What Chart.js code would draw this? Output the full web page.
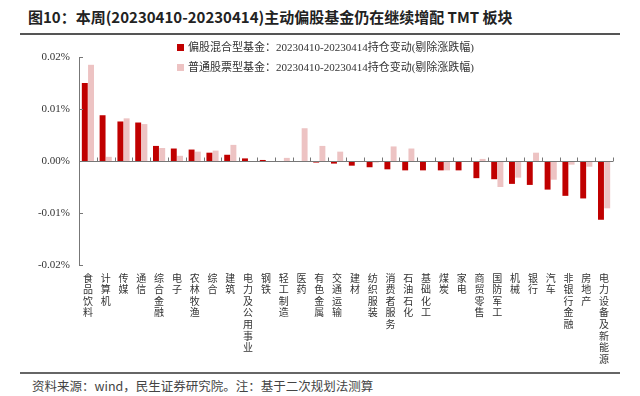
<!DOCTYPE html>
<html>
<head>
<meta charset="utf-8">
<script src="https://cdn.jsdelivr.net/npm/chart.js@4.4.0/dist/chart.umd.min.js"></script>
<style>
  body { margin: 0; background: #fff; width: 640px; height: 396px; position: relative; overflow: hidden; }
  #title { position: absolute; left: 28px; top: 6px; font: bold 15px "Noto Sans CJK SC", sans-serif; color: #222; white-space: nowrap; }
  #titleLine { position: absolute; left: 20px; top: 33px; width: 600px; height: 2px; background: #555; }
  #footLine { position: absolute; left: 20px; top: 372px; width: 600px; height: 2px; background: #666; }
  #foot { position: absolute; left: 32px; top: 376px; font: 12.5px "Noto Sans CJK SC", sans-serif; color: #444; white-space: nowrap; }
  #chartBox { position: absolute; left: 0; top: 36px; width: 640px; height: 334px; }
  #legend { position: absolute; left: 177px; top: 39px; font: 11px "Liberation Serif", "Noto Sans CJK SC", serif; color: #333; }
  #legend div { height: 20px; line-height: 16px; white-space: nowrap; }
  #legend span.box { display: inline-block; width: 7px; height: 7px; margin-right: 4px; vertical-align: 0px; }
</style>
</head>
<body>
<div id="title">图10：本周(20230410-20230414)主动偏股基金仍在继续增配 TMT 板块</div>
<div id="titleLine"></div>
<div id="chartBox"><canvas id="c"></canvas></div>
<div id="legend"></div>
<div id="footLine"></div>
<div id="foot">资料来源：wind，民生证券研究院。注：基于二次规划法测算</div>
<script>
// -------- DATA --------
const categories = ["食品饮料", "计算机", "传媒", "通信", "综合金融", "电子", "农林牧渔", "综合", "建筑",
    "电力及公用事业", "钢铁", "轻工制造", "医药", "有色金属", "交通运输", "建材", "纺织服装", "消费者服务",
    "石油石化", "基础化工", "煤炭", "家电", "商贸零售", "国防军工", "机械", "银行", "汽车", "非银行金融",
    "房地产", "电力设备及新能源"];

const seriesNames = ["偏股混合型基金：20230410-20230414持仓变动(剔除涨跌幅)",
    "普通股票型基金：20230410-20230414持仓变动(剔除涨跌幅)"];

const hybridFund = [0.0150, 0.0088, 0.0076, 0.0074, 0.0029, 0.0024, 0.0022, 0.0016, 0.0012,
    0.0005, 0.0002, -0.0001, -0.0001, -0.0003, -0.0005, -0.0009, -0.0012, -0.0016,
    -0.0018, -0.0018, -0.0018, -0.0018, -0.0033, -0.0035, -0.0044, -0.0046, -0.0055, -0.0067,
    -0.0072, -0.0113];

const stockFund = [0.0185, 0.0008, 0.0082, 0.0071, 0.0025, 0.0010, 0.0018, 0.0020, 0.0031,
    -0.0001, 0.0000, 0.0006, 0.0063, 0.0029, 0.0018, -0.0001, -0.0003, 0.0028,
    0.0024, 0.0000, -0.0018, 0.0000, 0.0004, -0.0050, -0.0032, 0.0016, -0.0036, -0.0007,
    -0.0011, -0.0091];

const yTicks = [-0.02, -0.01, 0.00, 0.01, 0.02];

const colors = ["#C00000", "#EDC3C3"];

// -------- LEGEND --------
const legendEl = document.getElementById("legend");
seriesNames.forEach((name, i) => {
    const row = document.createElement("div");
    row.innerHTML = `<span class="box" style="background:${colors[i]}"></span>${name}`;
    legendEl.appendChild(row);
});

// -------- AXIS DECORATION (zero line, inward ticks) --------
const axisDeco = {
    id: "axisDeco",
    afterDatasetsDraw(chart) {
        const { ctx, chartArea, scales: { x, y } } = chart;
        const y0 = y.getPixelForValue(0);
        ctx.save();
        ctx.strokeStyle = "#777";
        ctx.lineWidth = 1;
        ctx.beginPath();
        // y axis line
        ctx.moveTo(chartArea.left + 0.5, chartArea.top);
        ctx.lineTo(chartArea.left + 0.5, chartArea.bottom);
        // y ticks pointing inward
        yTicks.forEach(v => {
            const py = Math.round(y.getPixelForValue(v)) + 0.5;
            ctx.moveTo(chartArea.left, py);
            ctx.lineTo(chartArea.left + 4, py);
        });
        // zero line
        const pz = Math.round(y0) + 0.5;
        ctx.moveTo(chartArea.left, pz);
        ctx.lineTo(chartArea.right, pz);
        // category ticks on zero line
        const step = (chartArea.right - chartArea.left) / categories.length;
        for (let i = 1; i <= categories.length; i++) {
            const px = Math.round(chartArea.left + step * i) + 0.5;
            ctx.moveTo(px, pz);
            ctx.lineTo(px, pz - 4);
        }
        ctx.stroke();
        ctx.restore();
    }
};

// -------- CHART --------
const ctx = document.getElementById("c").getContext("2d");
new Chart(ctx, {
    type: "bar",
    data: {
        labels: categories.map(c => c.split("")),
        datasets: [
            { label: seriesNames[0], data: hybridFund, backgroundColor: colors[0] },
            { label: seriesNames[1], data: stockFund, backgroundColor: colors[1] }
        ]
    },
    options: {
        responsive: true,
        maintainAspectRatio: false,
        animation: false,
        layout: { padding: { top: 21, right: 27, left: 0, bottom: 0 } },
        datasets: { bar: { categoryPercentage: 0.7, barPercentage: 0.95 } },
        scales: {
            x: {
                grid: { display: false, drawTicks: false },
                border: { display: false },
                ticks: {
                    autoSkip: false, maxRotation: 0, minRotation: 0, padding: 7,
                    color: "#333",
                    font: { family: "Noto Sans CJK SC", size: 10, lineHeight: 1.16 }
                },
                afterFit: scale => { scale.height = 105; }
            },
            y: {
                min: -0.02, max: 0.02,
                grid: { display: false, drawTicks: false },
                border: { display: false },
                afterBuildTicks: scale => { scale.ticks = yTicks.map(v => ({ value: v })); },
                ticks: {
                    padding: 9, color: "#333",
                    font: { family: "Liberation Serif", size: 11 },
                    callback: v => v.toFixed(2) + "%"
                },
                afterFit: scale => { scale.width = 79; }
            }
        },
        plugins: { legend: { display: false }, tooltip: { enabled: false } }
    },
    plugins: [axisDeco]
});
</script>
</body>
</html>
